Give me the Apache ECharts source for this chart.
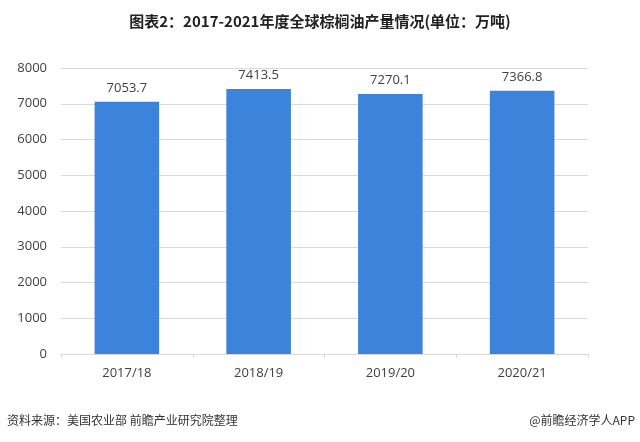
<!DOCTYPE html>
<html>
<head>
<meta charset="utf-8">
<script src="https://cdn.jsdelivr.net/npm/echarts@6/dist/echarts.min.js"></script>
<style>
html,body{margin:0;padding:0;background:#fff;}
#c{width:640px;height:442px;}
</style>
</head>
<body>
<div id="c"></div>
<script>
var categories = ['2017/18', '2018/19', '2019/20', '2020/21'];
var production = [7053.7, 7413.5, 7270.1, 7366.8];
var yTicks = [0, 1000, 2000, 3000, 4000, 5000, 6000, 7000, 8000];
var titleText = '图表2：2017-2021年度全球棕榈油产量情况(单位：万吨)';
var sourceText = '资料来源：美国农业部 前瞻产业研究院整理';
var creditText = '@前瞻经济学人APP';

var chart = echarts.init(document.getElementById('c'), null, {renderer: 'canvas'});
var font = '"Microsoft YaHei", "Noto Sans CJK SC", sans-serif';
chart.setOption({
  backgroundColor: '#fff',
  animation: false,
  title: {
    text: titleText,
    left: 'center',
    top: 9,
    textStyle: {fontFamily: font, fontSize: 15, fontWeight: 'bold', color: '#222'}
  },
  graphic: [
    {type: 'text', left: 7, top: 414, style: {text: sourceText, font: '12px ' + font, fill: '#333'}},
    {type: 'text', right: 5, top: 414, style: {text: creditText, font: '12px ' + font, fill: '#333'}}
  ],
  grid: {left: 61, right: 52, top: 68, bottom: 88},
  xAxis: {
    type: 'category',
    data: categories,
    axisLine: {lineStyle: {color: '#d9d9d9'}},
    axisTick: {show: true, length: 4, lineStyle: {color: '#d9d9d9'}},
    axisLabel: {color: '#404040', fontSize: 13, margin: 13, fontFamily: 'Open Sans, sans-serif'}
  },
  yAxis: {
    type: 'value',
    min: yTicks[0],
    max: yTicks[yTicks.length - 1],
    interval: 1000,
    axisLine: {show: false},
    axisTick: {show: false},
    splitLine: {lineStyle: {color: '#d9d9d9'}},
    axisLabel: {color: '#404040', fontSize: 13, margin: 14, fontFamily: 'Open Sans, sans-serif',
      formatter: function (v) { return String(v); }}
  },
  series: [{
    type: 'bar',
    data: production,
    barWidth: '49%',
    itemStyle: {color: '#3c83dc'},
    label: {
      show: true,
      position: 'top',
      distance: 7,
      color: '#404040',
      fontSize: 13,
      fontFamily: 'Open Sans, sans-serif',
      formatter: function (p) { return p.value.toFixed(1); }
    }
  }]
});
</script>
</body>
</html>
